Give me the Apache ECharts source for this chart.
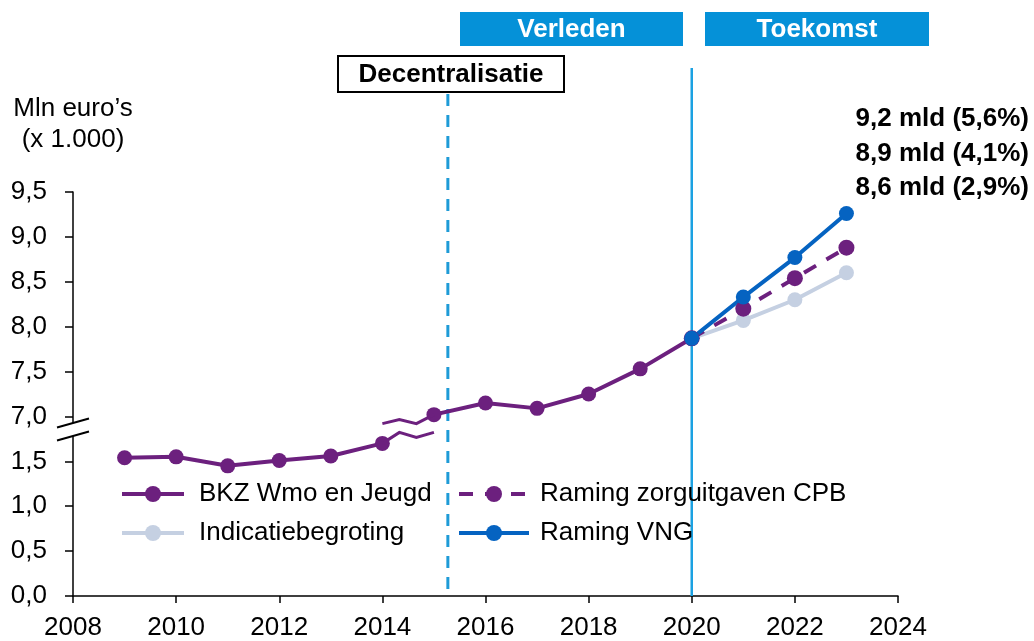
<!DOCTYPE html>
<html>
<head>
<meta charset="utf-8">
<script src="https://cdn.jsdelivr.net/npm/echarts@6/dist/echarts.min.js"></script>
<style>
html,body{margin:0;padding:0;background:#fff;}
#c{width:1034px;height:641px;}
</style>
</head>
<body>
<div id="c"></div>
<script>
// ---- data (real values, mld euro) ----
var bkzYears = [2009, 2010, 2011, 2012, 2013, 2014, 2015, 2016, 2017, 2018, 2019, 2020];
var bkzValues = [1.54, 1.55, 1.45, 1.51, 1.56, 1.70, 7.02, 7.15, 7.09, 7.25, 7.53, 7.87];
var forecastYears = [2020, 2021, 2022, 2023];
var cpbValues = [7.87, 8.20, 8.54, 8.88];
var indicatieValues = [7.87, 8.07, 8.30, 8.60];
var vngValues = [7.87, 8.33, 8.77, 9.26];
var rightLabels = ['9,2 mld (5,6%)', '8,9 mld (4,1%)', '8,6 mld (2,9%)'];
var decentralisatieYear = 2015.27;
var splitYear = 2020;
var seriesNames = ['BKZ Wmo en Jeugd', 'Raming zorguitgaven CPB', 'Indicatiebegroting', 'Raming VNG'];

// broken axis: values >= 6 are drawn shifted down by 5 (7,0 sits where 2,0 would be)
var breakShift = 5;
function toAxis(v) { return v >= 6 ? v - breakShift : v; }
function fromAxis(v) { return v >= 2 ? v + breakShift : v; }

var FONT = '"Liberation Sans", Arial, sans-serif';
var FS = 26;
var PURPLE = '#6C207E', BLUE = '#0563C1', GREY = '#C5D0E2', LIGHTBLUE = '#1BA1E2', BOXBLUE = '#0591D8';

function pairs(xs, ys) {
  return xs.map(function (x, i) { return [x, toAxis(ys[i])]; });
}

var lowPart = pairs(bkzYears, bkzValues).filter(function (p) { return p[0] <= 2014; });
var highPart = pairs(bkzYears, bkzValues).filter(function (p) { return p[0] >= 2015; });

var chart = echarts.init(document.getElementById('c'), null, {renderer: 'canvas'});
var lineSeries = function (name, data, color, extra) {
  var s = {
    name: name, type: 'line', data: data, symbol: 'circle', symbolSize: 15,
    lineStyle: {color: color, width: 4}, itemStyle: {color: color},
    emphasis: {disabled: true}, silent: true, animation: false
  };
  for (var k in extra) s[k] = extra[k];
  return s;
};

var legendCommon = {
  orient: 'vertical', top: 481, padding: 0, itemHeight: 20, itemGap: 13, selectedMode: false,
  lineStyle: {width: 4}
};
function mergeObj(a, b) { var o = {}; for (var k in a) o[k] = a[k]; for (var j in b) o[j] = b[j]; return o; }

chart.setOption({
  animation: false,
  grid: {left: 73, right: 136, top: 192, bottom: 45, containLabel: false},
  xAxis: {
    type: 'value', min: 2008, max: 2024, interval: 2,
    axisLine: {show: true, lineStyle: {color: '#000', width: 1.5}},
    axisTick: {show: true, length: 7, lineStyle: {color: '#000', width: 1.5}},
    axisLabel: {color: '#000', fontSize: FS, fontFamily: FONT, margin: 19, formatter: function (v) { return String(v); }},
    splitLine: {show: false}
  },
  yAxis: {
    type: 'value', min: 0, max: 4.5, interval: 0.5,
    axisLine: {show: true, lineStyle: {color: '#000', width: 1.5}},
    axisTick: {show: true, length: 8, lineStyle: {color: '#000', width: 1.5}},
    axisLabel: {color: '#000', fontSize: FS, fontFamily: FONT, margin: 26,
      formatter: function (v) { return fromAxis(v).toFixed(1).replace('.', ','); }},
    splitLine: {show: false}
  },
  legend: [mergeObj(legendCommon, {
    data: [seriesNames[0], seriesNames[2]], left: 120, itemWidth: 62,
    textStyle: {color: '#000', fontSize: FS, fontFamily: FONT, padding: [0, 0, 0, 10]}
  }), mergeObj(legendCommon, {
    data: [seriesNames[1], seriesNames[3]], left: 457, itemWidth: 70,
    textStyle: {color: '#000', fontSize: FS, fontFamily: FONT, padding: [0, 0, 0, 6]}
  })],
  series: [
    lineSeries(seriesNames[0], lowPart, PURPLE, {}),
    lineSeries(seriesNames[0], highPart, PURPLE, {}),
    lineSeries(seriesNames[2], pairs(forecastYears, indicatieValues), GREY, {}),
    lineSeries(seriesNames[1], pairs(forecastYears, cpbValues), PURPLE,
      {lineStyle: {color: PURPLE, width: 4, type: [14, 12]}, symbolSize: 16}),
    lineSeries(seriesNames[3], pairs(forecastYears, vngValues), BLUE, {})
  ]
});

function px(x, y) { return chart.convertToPixel({gridIndex: 0}, [x, y]); }

var g = [];
var bottomY = px(2008, 0)[1];
var decX = px(decentralisatieYear, 0)[0];
var splitX = px(splitYear, 0)[0];
g.push({type: 'line', shape: {x1: decX, y1: 94, x2: decX, y2: bottomY}, z: 1,
  style: {stroke: '#1E9BD7', lineWidth: 3, lineDash: [12, 9]}});
g.push({type: 'line', shape: {x1: splitX, y1: 68, x2: splitX, y2: bottomY}, z: 1,
  style: {stroke: LIGHTBLUE, lineWidth: 2.5}});

// header boxes
function box(x, y, w, h, fill, stroke, text, color) {
  g.push({type: 'rect', shape: {x: x, y: y, width: w, height: h}, z: 10,
    style: {fill: fill, stroke: stroke || null, lineWidth: stroke ? 2 : 0}});
  g.push({type: 'text', x: x + w / 2, y: y + h / 2 + 1, z: 11,
    style: {text: text, fill: color, font: 'bold ' + FS + 'px ' + FONT, align: 'center', verticalAlign: 'middle'}});
}
box(460, 12, 223, 34, BOXBLUE, null, 'Verleden', '#fff');
box(705, 12, 224, 34, BOXBLUE, null, 'Toekomst', '#fff');
box(338, 56, 226, 36, '#fff', '#000', 'Decentralisatie', '#000');

// axis title
g.push({type: 'text', x: 73, y: 109, z: 10, style: {text: 'Mln euro\u2019s', fill: '#000', font: FS + 'px ' + FONT, align: 'center', verticalAlign: 'middle'}});
g.push({type: 'text', x: 73, y: 140, z: 10, style: {text: '(x 1.000)', fill: '#000', font: FS + 'px ' + FONT, align: 'center', verticalAlign: 'middle'}});

// right labels
rightLabels.forEach(function (t, i) {
  g.push({type: 'text', x: 1029, y: 119 + i * 34.5, z: 10,
    style: {text: t, fill: '#000', font: 'bold ' + FS + 'px ' + FONT, align: 'right', verticalAlign: 'middle'}});
});

// y-axis break marks
var axX = px(2008, 0)[0];
var y7 = px(2008, toAxis(7.0))[1];
var ua = y7 + 6, la = y7 + 19;
g.push({type: 'polygon', z: 20, shape: {points: [[axX - 16, ua + 5], [axX + 16, ua - 4], [axX + 16, la - 4], [axX - 16, la + 5]]},
  style: {fill: '#fff'}});
g.push({type: 'line', z: 21, shape: {x1: axX - 16, y1: ua + 5, x2: axX + 16, y2: ua - 4}, style: {stroke: '#000', lineWidth: 2}});
g.push({type: 'line', z: 21, shape: {x1: axX - 16, y1: la + 5, x2: axX + 16, y2: la - 4}, style: {stroke: '#000', lineWidth: 2}});

// line break squiggles between 2014 and 2015
var P = px(2014, toAxis(bkzValues[5]));
var Q = px(2015, toAxis(bkzValues[6]));
g.push({type: 'polyline', z: 5, shape: {points: [[P[0], P[1]], [P[0] + 17, P[1] - 11], [P[0] + 34, P[1] - 6], [Q[0], P[1] - 11]]},
  style: {stroke: PURPLE, lineWidth: 3, fill: null}});
g.push({type: 'polyline', z: 5, shape: {points: [[P[0], Q[1] + 9], [P[0] + 17, Q[1] + 5], [P[0] + 34, Q[1] + 9], [Q[0], Q[1]]]},
  style: {stroke: PURPLE, lineWidth: 3, fill: null}});

chart.setOption({graphic: g});
</script>
</body>
</html>
